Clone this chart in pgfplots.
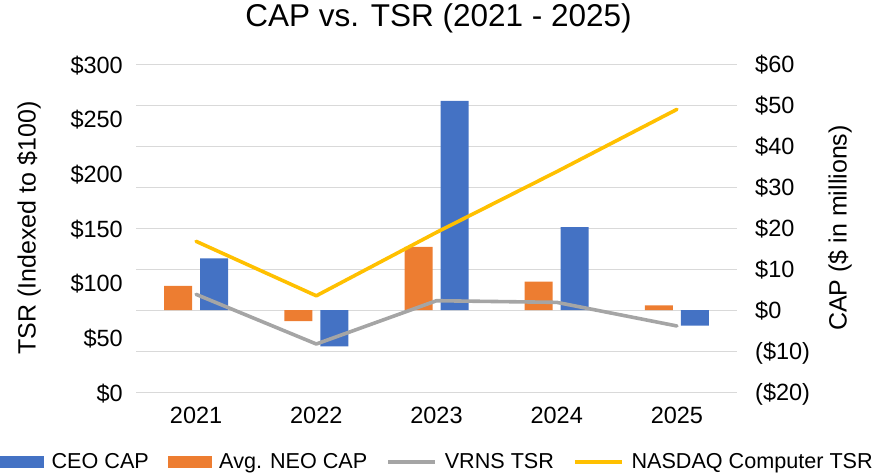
\documentclass[border=0pt]{standalone}
\usepackage{fontspec}
\setmainfont{Liberation Sans}
\usepackage{pgfplots}
\pgfplotsset{compat=1.18}
\definecolor{cCEO}{HTML}{4472C4}
\definecolor{cNEO}{HTML}{ED7D31}
\definecolor{cVRNS}{HTML}{A5A5A5}
\definecolor{cNAS}{HTML}{FFC000}
\definecolor{cGrid}{HTML}{D9D9D9}
\begin{document}
\begin{tikzpicture}
\useasboundingbox (0,0) rectangle (874pt,474pt);
\pgfplotsset{base/.style={at={(136pt,82pt)}, anchor=south west, scale only axis,
  width=601pt, height=328pt, xmin=-0.5, xmax=4.5,
  axis line style={draw=none}, major tick length=0pt, tick style={draw=none},
  xtick={0,1,2,3,4}}}
\begin{axis}[base, ymin=-20, ymax=60, ytick={-20,-10,0,10,20,30,40,50,60},
  yticklabels={(\$20),(\$10),\$0,\$10,\$20,\$30,\$40,\$50,\$60},
  yticklabel pos=right,
  yticklabel style={anchor=base west, inner sep=0pt, xshift=18pt, yshift=-8pt, font=\fontsize{23.5}{28}\selectfont},
  xticklabels={},
  ymajorgrids, grid style={cGrid, line width=1pt},
  ybar=8pt, bar width=28pt]
\addplot[fill=cNEO, draw=none] coordinates {(0,5.9) (1,-2.7) (2,15.4) (3,6.9) (4,1.1)};
\addplot[fill=cCEO, draw=none] coordinates {(0,12.6) (1,-8.9) (2,51.0) (3,20.2) (4,-3.8)};
\end{axis}
\begin{axis}[base, ymin=0, ymax=300, ytick={0,50,100,150,200,250,300},
  yticklabels={\$0,\$50,\$100,\$150,\$200,\$250,\$300},
  yticklabel style={anchor=base east, inner sep=0pt, xshift=-13pt, yshift=-9pt, font=\fontsize{23.5}{28}\selectfont},
  xticklabels={2021,2022,2023,2024,2025},
  xticklabel style={anchor=base, inner sep=0pt, yshift=-31pt, font=\fontsize{23.5}{28}\selectfont},
  legend columns=4,
  legend cell align=left,
  legend image code/.code={\draw[#1, line width=3.5pt, line cap=butt] (0pt,0pt) -- (47pt,0pt);},
  legend style={at={(0.5,0)}, anchor=center, yshift=-70pt, draw=none, fill=none,
    font=\fontsize{21.6}{26}\selectfont, inner sep=0pt,
    /tikz/every odd column/.append style={column sep=8pt},
    /tikz/every even column/.append style={column sep=19pt},
    nodes={inner sep=0pt}}]
\addlegendimage{legend image code/.code={\fill[cCEO] (0pt,-5.5pt) rectangle (43pt,5.5pt);}}
\addlegendentry{CEO CAP}
\addlegendimage{legend image code/.code={\fill[cNEO] (0pt,-5.5pt) rectangle (43pt,5.5pt);}}
\addlegendentry{Avg. NEO CAP}
\addplot[cVRNS, line width=3.6pt, line cap=round, line join=round]
  coordinates {(0,89.3) (1,43.9) (2,83.5) (3,82.0) (4,60.4)};
\addlegendentry{VRNS TSR}
\addplot[cNAS, line width=3.6pt, line cap=round, line join=round]
  coordinates {(0,137.8) (1,88.0) (2,146.0) (3,201.5) (4,258.5)};
\addlegendentry{NASDAQ Computer TSR}
\end{axis}
\node[anchor=base, font=\fontsize{31.5}{36}\selectfont] at (438.5pt,447pt) {CAP vs. TSR (2021 - 2025)};
\node[rotate=90, anchor=center, font=\fontsize{25}{30}\selectfont] at (29pt,246pt) {TSR (Indexed to \$100)};
\node[rotate=90, anchor=center, font=\fontsize{25}{30}\selectfont] at (840pt,246pt) {CAP (\$ in millions)};
\end{tikzpicture}
\end{document}
